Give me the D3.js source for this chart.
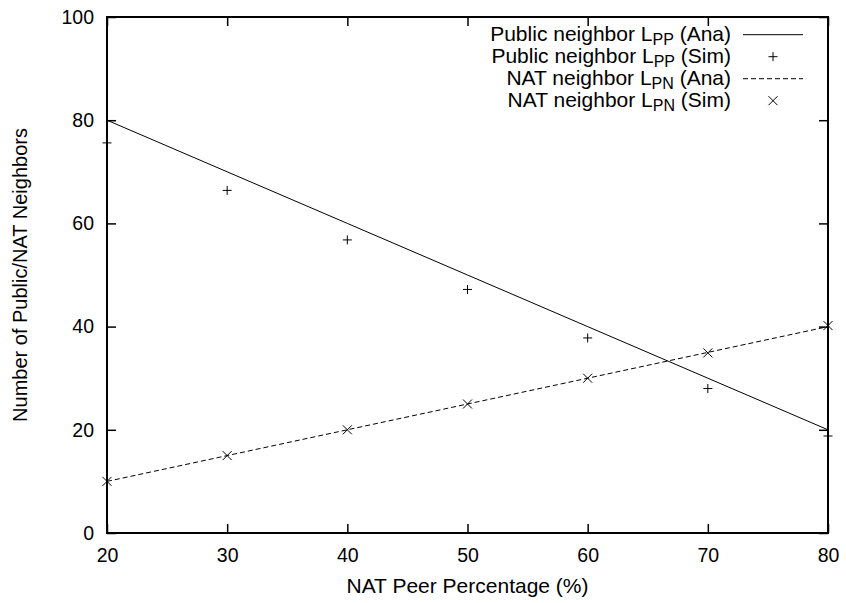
<!DOCTYPE html>
<html>
<head>
<meta charset="utf-8">
<script src="https://cdn.jsdelivr.net/npm/d3@7"></script>
<style>
  html, body { margin: 0; padding: 0; background: #fff; }
  text { font-family: "Liberation Sans", Arial, Helvetica, sans-serif; fill: #000; }
</style>
</head>
<body>
<svg id="chart" width="846" height="603"></svg>
<script>
// NAT peer percentage (x)
const natPercent = [20, 30, 40, 50, 60, 70, 80];
// Analytic public-neighbor count L_PP
const ppAna = [80, 70, 60, 50, 40, 30, 20];
// Simulated public-neighbor count L_PP
const ppSim = [75.6, 66.4, 56.8, 47.2, 37.8, 28.0, 18.8];
// Analytic NAT-neighbor count L_PN
const pnAna = [10, 15, 20, 25, 30, 35, 40];
// Simulated NAT-neighbor count L_PN
const pnSim = [10.0, 15.0, 20.0, 25.0, 30.0, 34.9, 40.2];

const xTicks = [20, 30, 40, 50, 60, 70, 80];
const yTicks = [0, 20, 40, 60, 80, 100];

const legendItems = [
  { name: "Public neighbor L", sub: "PP", tag: " (Ana)", kind: "solid" },
  { name: "Public neighbor L", sub: "PP", tag: " (Sim)", kind: "plus" },
  { name: "NAT neighbor L", sub: "PN", tag: " (Ana)", kind: "dashed" },
  { name: "NAT neighbor L", sub: "PN", tag: " (Sim)", kind: "cross" }
];

const svg = d3.select("#chart");
const plotLeft = 107, plotRight = 828, plotTop = 17, plotBottom = 533;

const x = d3.scaleLinear().domain([20, 80]).range([plotLeft, plotRight]);
const y = d3.scaleLinear().domain([0, 100]).range([plotBottom, plotTop]);

const tickFont = 19.5;
const labelFont = 21;
const tickLen = 9;

// Axes with inward ticks on all four sides
const gx = svg.append("g").attr("transform", `translate(0,${plotBottom})`)
  .call(d3.axisBottom(x).tickValues(xTicks).tickSize(-tickLen).tickPadding(15).tickFormat(d3.format("d")));
const gxTop = svg.append("g").attr("transform", `translate(0,${plotTop})`)
  .call(d3.axisTop(x).tickValues(xTicks).tickSize(-tickLen).tickFormat(""));
const gy = svg.append("g").attr("transform", `translate(${plotLeft},0)`)
  .call(d3.axisLeft(y).tickValues(yTicks).tickSize(-tickLen).tickPadding(13).tickFormat(d3.format("d")));
const gyRight = svg.append("g").attr("transform", `translate(${plotRight},0)`)
  .call(d3.axisRight(y).tickValues(yTicks).tickSize(-tickLen).tickFormat(""));

[gx, gxTop, gy, gyRight].forEach(g => {
  g.select(".domain").remove();
  g.selectAll(".tick line").attr("stroke", "#000").attr("stroke-width", 1.5);
  g.selectAll(".tick text").attr("font-size", tickFont)
    .attr("font-family", "'Liberation Sans', Arial, sans-serif").attr("fill", "#000");
});

// Frame
svg.append("rect")
  .attr("x", plotLeft).attr("y", plotTop)
  .attr("width", plotRight - plotLeft).attr("height", plotBottom - plotTop)
  .attr("fill", "none").attr("stroke", "#000").attr("stroke-width", 2);

const line = d3.line().x(d => x(d[0])).y(d => y(d[1]));

const ppAnaPts = natPercent.map((v, i) => [v, ppAna[i]]);
const pnAnaPts = natPercent.map((v, i) => [v, pnAna[i]]);

svg.append("path").attr("d", line(ppAnaPts))
  .attr("fill", "none").attr("stroke", "#000").attr("stroke-width", 1);
svg.append("path").attr("d", line(pnAnaPts))
  .attr("fill", "none").attr("stroke", "#000").attr("stroke-width", 1)
  .attr("stroke-dasharray", "5,3");

const ms = 4.5; // marker half-size
function plus(g, cx, cy) {
  g.append("path")
    .attr("d", `M${cx - ms},${cy}H${cx + ms}M${cx},${cy - ms}V${cy + ms}`)
    .attr("stroke", "#000").attr("stroke-width", 1).attr("fill", "none");
}
function cross(g, cx, cy) {
  const s = ms;
  g.append("path")
    .attr("d", `M${cx - s},${cy - s}L${cx + s},${cy + s}M${cx - s},${cy + s}L${cx + s},${cy - s}`)
    .attr("stroke", "#000").attr("stroke-width", 1).attr("fill", "none");
}

const marks = svg.append("g");
natPercent.forEach((v, i) => plus(marks, x(v), y(ppSim[i])));
natPercent.forEach((v, i) => cross(marks, x(v), y(pnSim[i])));

// Legend
const legend = svg.append("g");
const rowY0 = 40.7, rowStep = 22;
const textRight = 731, sampleX1 = 743, sampleX2 = 803;
legendItems.forEach((it, i) => {
  const by = rowY0 + i * rowStep;
  const t = legend.append("text").attr("x", textRight).attr("y", by)
    .attr("text-anchor", "end").attr("font-size", labelFont);
  t.append("tspan").text(it.name);
  t.append("tspan").attr("dy", 4).attr("font-size", 16).text(it.sub);
  t.append("tspan").attr("dy", -4).text(it.tag);
  const cy = by - 6;
  if (it.kind === "solid" || it.kind === "dashed") {
    const l = legend.append("line").attr("x1", sampleX1).attr("x2", sampleX2)
      .attr("y1", cy).attr("y2", cy).attr("stroke", "#000").attr("stroke-width", 1);
    if (it.kind === "dashed") l.attr("stroke-dasharray", "5,3");
  } else if (it.kind === "plus") {
    plus(legend, (sampleX1 + sampleX2) / 2, cy);
  } else {
    cross(legend, (sampleX1 + sampleX2) / 2, cy);
  }
});

// Axis titles
svg.append("text")
  .attr("x", (plotLeft + plotRight) / 2).attr("y", 593)
  .attr("text-anchor", "middle").attr("font-size", labelFont)
  .text("NAT Peer Percentage (%)");
svg.append("text")
  .attr("transform", `translate(27,${(plotTop + plotBottom) / 2}) rotate(-90)`)
  .attr("text-anchor", "middle").attr("font-size", 20)
  .text("Number of Public/NAT Neighbors");
</script>
</body>
</html>
